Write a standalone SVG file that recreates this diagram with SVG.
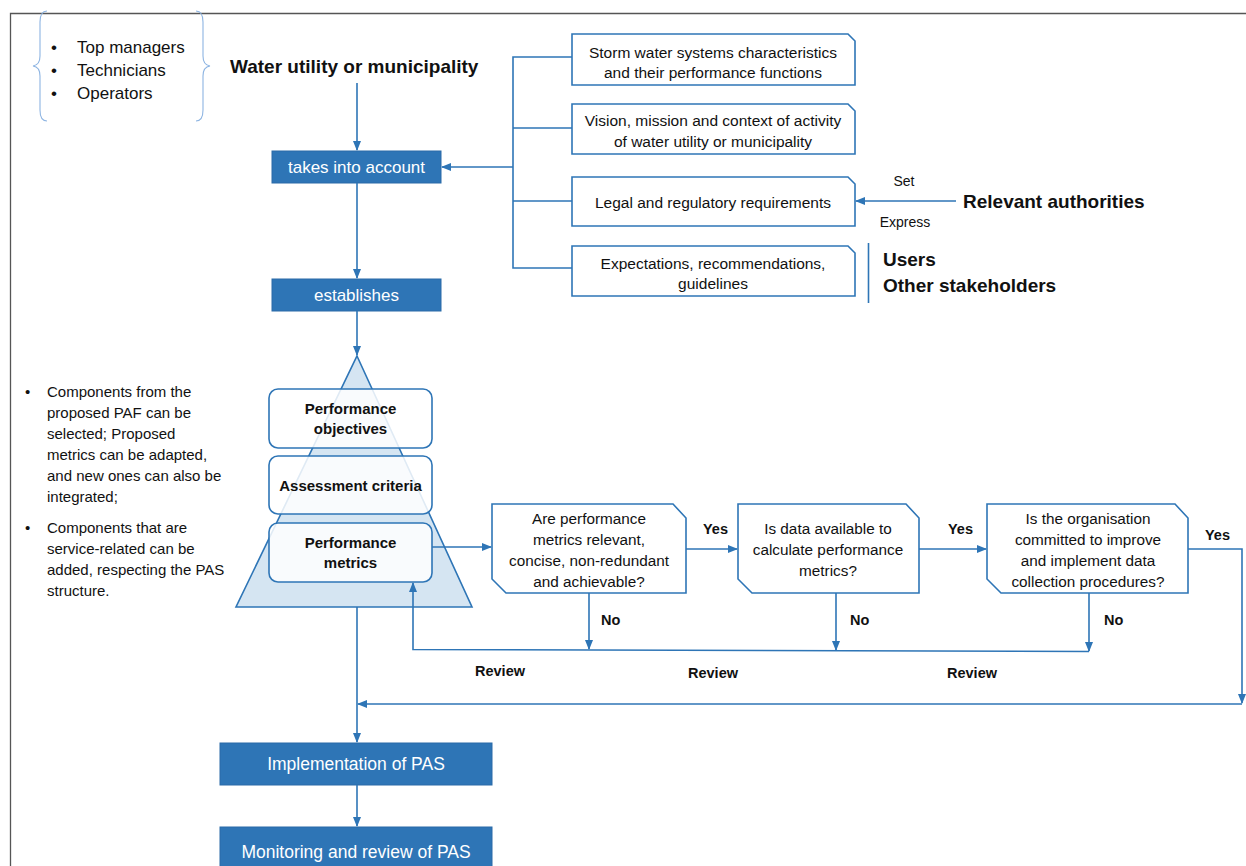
<svg xmlns="http://www.w3.org/2000/svg" width="1246" height="866" viewBox="0 0 1246 866">
<style>
text{font-family:"Liberation Sans",Arial,sans-serif;fill:#111}
.t{font-size:15px}
.tc{font-size:15.5px;text-anchor:middle}
.q{font-size:15.3px;text-anchor:middle}
.b{font-weight:bold}
.w{fill:#fff;font-size:17px;text-anchor:middle}
.big{font-size:19px;font-weight:bold}
.lb{font-size:14.5px;font-weight:bold}
.ln{stroke:#2E75B6;stroke-width:1.6;fill:none}
.ar{stroke:#2E75B6;stroke-width:1.6;fill:none;marker-end:url(#ah)}
.sb{fill:#2E75B6;stroke:#2A6BA8;stroke-width:1}
.ob{fill:#fff;stroke:#2E75B6;stroke-width:1.6}
.rb{fill:#fff;fill-opacity:0.85;stroke:#2E75B6;stroke-width:1.6}
</style>
<defs>
<marker id="ah" markerWidth="10" markerHeight="10" viewBox="0 0 10 10" refX="9" refY="5" orient="auto" markerUnits="userSpaceOnUse">
<path d="M0,1 L10,5 L0,9 Z" fill="#2E75B6"/>
</marker>
</defs>
<rect width="1246" height="866" fill="#fff"/>
<g id="frame"><path d="M10.5,866 V13.5 H1246" stroke="#555" stroke-width="1.3" fill="none"/></g>

<g id="roles">
<path d="M47,11 Q40,11 40,22 V56 Q40,65 33,66 Q40,67 40,76 V110 Q40,121 47,121" stroke="#8DB4E2" stroke-width="1.1" fill="none"/>
<path d="M196,11 Q203,11 203,22 V56 Q203,65 210,66 Q203,67 203,76 V110 Q203,121 196,121" stroke="#8DB4E2" stroke-width="1.1" fill="none"/>
<text x="51" y="53" style="font-size:17px">•</text><text x="77" y="53" style="font-size:17px">Top managers</text>
<text x="51" y="76" style="font-size:17px">•</text><text x="77" y="76" style="font-size:17px">Technicians</text>
<text x="51" y="99" style="font-size:17px">•</text><text x="77" y="99" style="font-size:17px">Operators</text>
</g>
<g id="water"><text x="230" y="73" class="big">Water utility or municipality</text></g>

<g id="takes"><rect x="272" y="151" width="169" height="32" class="sb"/><text x="356.5" y="173" class="w">takes into account</text></g>
<g id="establishes"><rect x="272" y="279" width="169" height="32" class="sb"/><text x="356.5" y="301" class="w">establishes</text></g>

<g id="storm"><path d="M572,34 H848 L855,41 V85 H572 Z" class="ob"/><text x="713" y="58" class="tc">Storm water systems characteristics</text><text x="713" y="78" class="tc">and their performance functions</text></g>
<g id="vision"><path d="M572,104 H848 L855,111 V154 H572 Z" class="ob"/><text x="713" y="126" class="tc">Vision, mission and context of activity</text><text x="713" y="147" class="tc">of water utility or municipality</text></g>
<g id="legal"><path d="M572,177 H848 L855,184 V226 H572 Z" class="ob"/><text x="713" y="208" class="tc">Legal and regulatory requirements</text></g>
<g id="expect"><path d="M572,246 H848 L855,253 V296 H572 Z" class="ob"/><text x="713" y="269" class="tc">Expectations, recommendations,</text><text x="713" y="289" class="tc">guidelines</text></g>

<g id="authorities"><text x="963" y="208" class="big">Relevant authorities</text>
<text x="904" y="186" class="tc" style="font-size:14px">Set</text><text x="905" y="227" class="tc" style="font-size:14px">Express</text></g>
<g id="users"><path d="M868.5,243 V303" class="ln"/><text x="883" y="266" class="big">Users</text><text x="883" y="292" class="big">Other stakeholders</text></g>

<g id="pyramid"><path d="M357,356 L472,607 H236 Z" fill="#D5E5F2" stroke="#2E75B6" stroke-width="1.6"/></g>
<g id="objectives"><rect x="269" y="389" width="163" height="59" rx="9" class="rb"/><text x="350.5" y="414" class="tc b" style="font-size:15px">Performance</text><text x="350.5" y="434" class="tc b" style="font-size:15px">objectives</text></g>
<g id="criteria"><rect x="269" y="456" width="163" height="58" rx="9" class="rb"/><text x="350.5" y="491" class="tc b" style="font-size:15px">Assessment criteria</text></g>
<g id="metrics"><rect x="269" y="523" width="163" height="59" rx="9" class="rb"/><text x="350.5" y="548" class="tc b" style="font-size:15px">Performance</text><text x="350.5" y="568" class="tc b" style="font-size:15px">metrics</text></g>

<g id="notes">
<text x="25" y="397" class="t">•</text>
<text x="47" y="397" class="t">Components from the</text>
<text x="47" y="418" class="t">proposed PAF can be</text>
<text x="47" y="439" class="t">selected; Proposed</text>
<text x="47" y="460" class="t">metrics can be adapted,</text>
<text x="47" y="481" class="t">and new ones can also be</text>
<text x="47" y="502" class="t">integrated;</text>
<text x="25" y="533" class="t">•</text>
<text x="47" y="533" class="t">Components that are</text>
<text x="47" y="554" class="t">service-related can be</text>
<text x="47" y="575" class="t">added, respecting the PAS</text>
<text x="47" y="596" class="t">structure.</text>
</g>

<g id="q1"><path d="M492,504 H673 L686,518 V593 H506 L492,579 Z" class="ob"/>
<text x="589" y="524" class="q">Are performance</text><text x="589" y="545" class="q">metrics relevant,</text><text x="589" y="566" class="q">concise, non-redundant</text><text x="589" y="587" class="q">and achievable?</text></g>
<g id="q2"><path d="M738,504 H906 L919,518 V593 H752 L738,579 Z" class="ob"/>
<text x="828" y="534" class="q">Is data available to</text><text x="828" y="555" class="q">calculate performance</text><text x="828" y="576" class="q">metrics?</text></g>
<g id="q3"><path d="M987,504 H1175 L1188,518 V593 H1001 L987,579 Z" class="ob"/>
<text x="1088" y="524" class="q">Is the organisation</text><text x="1088" y="545" class="q">committed to improve</text><text x="1088" y="566" class="q">and implement data</text><text x="1088" y="587" class="q">collection procedures?</text></g>

<g id="impl"><rect x="220" y="743" width="272" height="42" class="sb"/><text x="356" y="770" class="w" style="font-size:17.5px">Implementation of PAS</text></g>
<g id="monitor"><rect x="220" y="827" width="272" height="45" class="sb"/><text x="356" y="858" class="w" style="font-size:17.5px">Monitoring and review of PAS</text></g>

<g id="connectors">
<path d="M357,83 V150" class="ar"/>
<path d="M357,183 V278" class="ar"/>
<path d="M357,311 V355" class="ar"/>
<path d="M572,57 H513 V268 H572 M513,128 H572 M513,201 H572" class="ln"/>
<path d="M513,167 H442" class="ar"/>
<path d="M956,201 H856" class="ar"/>
<path d="M432,547 H491" class="ar"/>
<path d="M686,549 H737" class="ar"/>
<path d="M919,549 H986" class="ar"/>
<path d="M1188,549 H1242 V703" class="ar"/>
<path d="M1242,704 H358" class="ar"/>
<path d="M589,593 V649" class="ar"/>
<path d="M836,593 V650" class="ar"/>
<path d="M1089,593 V651" class="ar"/>
<path d="M1089,651.5 L413,649.5 V583" class="ar"/>
<path d="M357,607 V742" class="ar"/>
<path d="M357,785 V826" class="ar"/>
</g>
<g id="labels">
<text x="703" y="534" class="lb">Yes</text>
<text x="948" y="534" class="lb">Yes</text>
<text x="1205" y="540" class="lb">Yes</text>
<text x="601" y="625" class="lb">No</text>
<text x="850" y="625" class="lb">No</text>
<text x="1104" y="625" class="lb">No</text>
<text x="475" y="676" class="lb">Review</text>
<text x="688" y="678" class="lb">Review</text>
<text x="947" y="678" class="lb">Review</text>
</g>
</svg>
